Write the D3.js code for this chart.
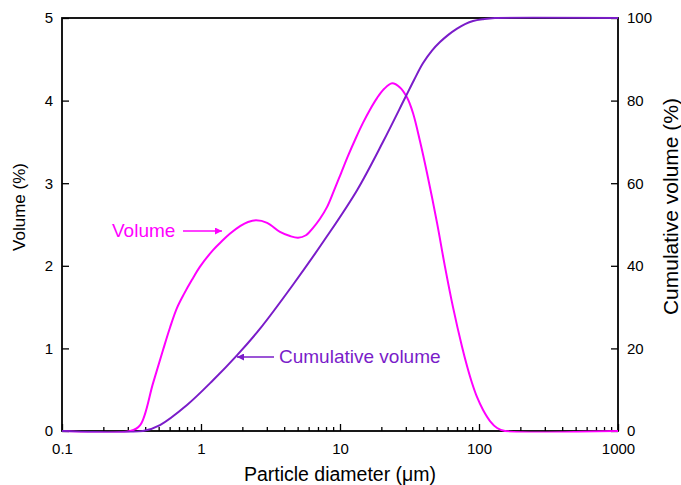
<!DOCTYPE html>
<html><head><meta charset="utf-8">
<script src="https://cdn.jsdelivr.net/npm/d3@7"></script>
<style>body{margin:0;background:#fff}svg text{font-family:"Liberation Sans",Arial,sans-serif}</style>
</head><body><svg id="c" width="681" height="485"></svg>
<script>
const volDiam = [0.1, 0.31, 0.365, 0.452, 0.533, 0.598, 0.672, 0.755, 0.861, 0.984, 1.22, 1.416, 1.62, 1.91, 2.18, 2.49, 2.99, 3.70, 4.37, 4.99, 5.69, 6.40, 7.18, 8.06, 9.05, 10.17, 11.42, 13.03, 14.63, 16.43, 18.46, 20.73, 23.7, 27.0, 30.3, 33.5, 37.6, 42.3, 49.9, 56.9, 65.0, 75.5, 82.0, 89.1, 96.7, 107, 120, 135, 154, 1000];
const volVals = [0, 0, 0.07, 0.58, 0.98, 1.25, 1.49, 1.66, 1.83, 1.99, 2.19, 2.30, 2.39, 2.48, 2.53, 2.55, 2.52, 2.41, 2.36, 2.34, 2.37, 2.46, 2.57, 2.71, 2.91, 3.12, 3.33, 3.55, 3.73, 3.89, 4.03, 4.14, 4.21, 4.16, 4.04, 3.85, 3.51, 3.12, 2.52, 1.99, 1.50, 1.02, 0.787, 0.581, 0.412, 0.254, 0.121, 0.036, 0, 0];
const cumDiam = [0.1, 0.383, 0.507, 0.793, 1.22, 1.82, 2.66, 4.59, 8.06, 13.3, 20.4, 29.4, 34.1, 39.5, 45.9, 52.4, 59.8, 69.5, 79.3, 90.6, 107, 130, 1000];
const cumVals = [0, 0, 1.45, 6.3, 12.28, 18.38, 24.79, 35.42, 47.14, 58.38, 70.03, 80.68, 85.0, 89.04, 92.11, 94.17, 95.86, 97.43, 98.52, 99.27, 99.71, 100, 100];
const xTicks = [0.1, 1, 10, 100, 1000];
const xTickLabels = ["0.1", "1", "10", "100", "1000"];
const yLeftTicks = [0, 1, 2, 3, 4, 5];
const yRightTicks = [0, 20, 40, 60, 80, 100];

const L = 62, R = 618, T = 18, B = 431;
const svg = d3.select("#c");
const x = d3.scaleLog().domain([0.1, 1000]).range([L, R]);
const y = d3.scaleLinear().domain([0, 5]).range([B, T]);
const y2 = d3.scaleLinear().domain([0, 100]).range([B, T]);
const VOL = "#ff00ff", CUM = "#7a1cc9";

svg.append("defs").html(`
<clipPath id="clip"><rect x="${L}" y="${T - 1.6}" width="${R - L}" height="${B - T + 3.2}"/></clipPath>
<marker id="am" viewBox="0 0 10 10" refX="10" refY="5" markerWidth="10" markerHeight="7" markerUnits="userSpaceOnUse" orient="auto"><path d="M0,0L10,5L0,10z" fill="${VOL}"/></marker>
<marker id="ac" viewBox="0 0 10 10" refX="10" refY="5" markerWidth="10" markerHeight="7" markerUnits="userSpaceOnUse" orient="auto"><path d="M0,0L10,5L0,10z" fill="${CUM}"/></marker>`);

const minor = [];
for (let d = 0.1; d < 1000; d *= 10) for (let k = 2; k <= 9; k++) minor.push(d * k);

const g = svg.append("g");
const xAx = d3.axisBottom(x).tickValues(xTicks).tickFormat((d, i) => xTickLabels[i]).tickSizeInner(-7).tickSizeOuter(0).tickPadding(12);
const gx = g.append("g").attr("transform", `translate(0,${B})`).call(xAx);
gx.append("g").selectAll("line").data(minor).join("line")
  .attr("x1", d => x(d)).attr("x2", d => x(d)).attr("y1", 0).attr("y2", -4)
  .attr("stroke", "#000").attr("stroke-width", 1.3);
const yAx = d3.axisLeft(y).tickValues(yLeftTicks).tickFormat(d3.format("d")).tickSizeInner(-7).tickSizeOuter(0).tickPadding(9);
const gy = g.append("g").attr("transform", `translate(${L},0)`).call(yAx);
const y2Ax = d3.axisRight(y2).tickValues(yRightTicks).tickFormat(d3.format("d")).tickSizeInner(-7).tickSizeOuter(0).tickPadding(9);
const gy2 = g.append("g").attr("transform", `translate(${R},0)`).call(y2Ax);
[gx, gy, gy2].forEach(a => {
  a.selectAll("text").attr("font-size", 15).attr("fill", "#000").attr("font-family", '"Liberation Sans",Arial,sans-serif');
  a.selectAll("line").attr("stroke", "#000").attr("stroke-width", 1.3);
  a.select(".domain").remove();
});
g.append("rect").attr("x", L).attr("y", T).attr("width", R - L).attr("height", B - T)
  .attr("fill", "none").attr("stroke", "#000").attr("stroke-width", 1.8);

const volData = volDiam.map((d, i) => [d, volVals[i]]);
const cumData = cumDiam.map((d, i) => [d, cumVals[i]]);
const lines = g.append("g").attr("clip-path", "url(#clip)");
lines.append("path").datum(volData).attr("fill", "none").attr("stroke", VOL).attr("stroke-width", 2)
  .attr("d", d3.line().x(d => x(d[0])).y(d => y(d[1])).curve(d3.curveCatmullRom.alpha(0.5)));
lines.append("path").datum(cumData).attr("fill", "none").attr("stroke", CUM).attr("stroke-width", 2)
  .attr("d", d3.line().x(d => x(d[0])).y(d => y2(d[1])).curve(d3.curveCatmullRom.alpha(0.5)));

svg.append("text").attr("x", 340).attr("y", 481).attr("text-anchor", "middle")
  .attr("font-size", 19.5).text("Particle diameter (μm)");
svg.append("text").attr("transform", `translate(25,207) rotate(-90)`).attr("text-anchor", "middle")
  .attr("font-size", 17).text("Volume (%)");
svg.append("text").attr("transform", `translate(678,98) rotate(-90)`).attr("text-anchor", "end")
  .attr("font-size", 21).text("Cumulative volume (%)");

svg.append("text").attr("x", 112).attr("y", 237).attr("font-size", 19).attr("fill", VOL).text("Volume");
svg.append("line").attr("x1", 183).attr("x2", 222).attr("y1", 231).attr("y2", 231)
  .attr("stroke", VOL).attr("stroke-width", 1.5).attr("marker-end", "url(#am)");
svg.append("text").attr("x", 279).attr("y", 363).attr("font-size", 19).attr("fill", CUM).text("Cumulative volume");
svg.append("line").attr("x1", 274).attr("x2", 237).attr("y1", 357).attr("y2", 357)
  .attr("stroke", CUM).attr("stroke-width", 1.5).attr("marker-end", "url(#ac)");
</script></body></html>
